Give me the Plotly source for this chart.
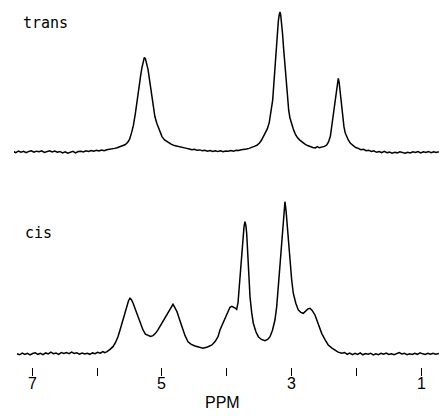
import plotly.graph_objects as go

# ---- data: trans spectrum (ppm, relative intensity) ----
trans_ppm = [7.29, 7.25, 7.21, 7.17, 7.13, 7.09, 7.05, 7.01, 6.97, 6.93, 6.89, 6.85, 6.81, 6.77, 6.73,
             6.69, 6.65, 6.61, 6.57, 6.53, 6.49, 6.45, 6.41, 6.37, 6.33, 6.29, 6.25, 6.21, 6.17, 6.13,
             6.09, 6.05, 6.01, 5.97, 5.93, 5.89, 5.85, 5.81, 5.77, 5.73, 5.69, 5.65, 5.61, 5.57, 5.53,
             5.50, 5.47, 5.44, 5.41, 5.385, 5.36, 5.33, 5.31, 5.29, 5.272, 5.255, 5.235, 5.215, 5.19,
             5.17, 5.14, 5.11, 5.08, 5.04, 5.00, 4.96, 4.91, 4.86, 4.81, 4.76, 4.71, 4.66, 4.62, 4.58,
             4.54, 4.50, 4.46, 4.42, 4.38, 4.34, 4.30, 4.26, 4.22, 4.18, 4.14, 4.10, 4.06, 4.02, 3.98,
             3.94, 3.90, 3.86, 3.82, 3.78, 3.74, 3.70, 3.66, 3.62, 3.58, 3.54, 3.50, 3.47, 3.44, 3.41,
             3.38, 3.35, 3.33, 3.31, 3.297, 3.28, 3.262, 3.245, 3.226, 3.21, 3.195, 3.185, 3.175, 3.16,
             3.146, 3.127, 3.108, 3.09, 3.072, 3.05, 3.031, 3.01, 2.98, 2.95, 2.92, 2.88, 2.84, 2.80,
             2.76, 2.72, 2.68, 2.64, 2.61, 2.58, 2.54, 2.50, 2.466, 2.44, 2.41, 2.39, 2.37, 2.355, 2.338,
             2.32, 2.30, 2.288, 2.275, 2.26, 2.251, 2.235, 2.22, 2.20, 2.18, 2.16, 2.134, 2.10, 2.06,
             2.02, 1.98, 1.94, 1.90, 1.86, 1.82, 1.78, 1.74, 1.70, 1.66, 1.62, 1.58, 1.54, 1.50, 1.46,
             1.42, 1.38, 1.34, 1.30, 1.26, 1.22, 1.18, 1.14, 1.10, 1.06, 1.02, 0.98, 0.94, 0.90, 0.86,
             0.82, 0.78, 0.74]
trans_int = [0.3, -0.4, 0.6, -0.2, 0.5, -0.5, 0.4, 0.9, -0.1, 0.6, 0.2, 0.8, -0.3, 0.5, 0.9,
             0.1, 0.7, -0.2, 0.4, -0.6, 0.2, -0.8, -0.1, 0.5, -0.7, 0.3, 0.6, 0.1, 0.9, 0.4,
             1.1, 0.5, 1.3, 0.7, 1.4, 1.0, 1.6, 1.8, 2.2, 2.6, 3.0, 3.6, 4.2, 5.2, 6.8,
             9.0, 13.5, 19.0, 27.5, 37.1, 46.5, 54.0, 60.0, 65.0, 67.6, 66.5, 63.5, 59.0, 51.0,
             44.0, 33.0, 25.5, 20.5, 15.0, 11.0, 8.6, 6.8, 5.6, 4.6, 4.0, 3.2, 3.0, 2.6, 2.2,
             1.6, 2.0, 1.2, 1.5, 0.9, 1.3, 0.6, 1.0, 0.4, 0.9, 0.3, 0.8, 0.2, 0.7, 0.5,
             1.0, 0.6, 1.2, 1.1, 1.6, 1.7, 2.2, 2.6, 3.1, 4.0, 4.8, 6.4, 8.4, 11.0, 13.5,
             16.5, 21.0, 26.0, 32.0, 37.1, 48.0, 60.7, 73.0, 85.0, 93.5, 98.5, 100.0, 98.5, 93.0,
             85.0, 73.0, 60.7, 48.0, 37.1, 29.5, 24.3, 20.5, 16.5, 13.0, 10.5, 8.5, 6.8, 5.6,
             4.6, 3.8, 3.2, 2.9, 3.8, 3.0, 3.4, 4.0, 5.0, 7.0, 11.0, 17.9, 24.0, 30.0, 37.1,
             44.5, 50.5, 52.6, 50.0, 43.0, 37.1, 29.5, 24.5, 17.9, 13.5, 10.8, 8.6, 6.2, 4.4,
             3.2, 2.6, 1.6, 1.9, 0.9, 1.3, 0.4, 0.8, -0.2, 0.3, -0.4, 0.5, -0.5, -0.1, -0.8,
             -0.2, -0.6, 0.1, -0.5, -0.9, -0.2, -0.7, 0.2, -0.4, 0.3, -0.6, 0.2, -0.3, 0.4, -0.5,
             0.1, -0.4, 0.2]

# ---- data: cis spectrum (ppm, relative intensity) ----
cis_ppm = [7.23, 7.19, 7.15, 7.11, 7.07, 7.03, 6.99, 6.95, 6.91, 6.87, 6.83, 6.79, 6.75, 6.71, 6.67,
           6.63, 6.59, 6.55, 6.51, 6.47, 6.43, 6.39, 6.35, 6.31, 6.27, 6.23, 6.19, 6.15, 6.11, 6.07,
           6.03, 5.99, 5.95, 5.91, 5.88, 5.846, 5.80, 5.754, 5.715, 5.677, 5.64, 5.60, 5.57, 5.538,
           5.515, 5.492, 5.47, 5.446, 5.41, 5.369, 5.33, 5.292, 5.255, 5.215, 5.175, 5.138, 5.10,
           5.062, 5.025, 4.985, 4.945, 4.908, 4.87, 4.845, 4.831, 4.81, 4.769, 4.73, 4.692, 4.645,
           4.600, 4.55, 4.492, 4.43, 4.369, 4.30, 4.231, 4.18, 4.138, 4.108, 4.07, 4.031, 3.99, 3.954,
           3.925, 3.903, 3.88, 3.851, 3.83, 3.815, 3.795, 3.774, 3.755, 3.738, 3.723, 3.71, 3.697,
           3.685, 3.672, 3.66, 3.646, 3.62, 3.595, 3.555, 3.518, 3.47, 3.415, 3.375, 3.338, 3.30,
           3.262, 3.235, 3.211, 3.19, 3.174, 3.158, 3.143, 3.125, 3.108, 3.09, 3.072, 3.05, 3.031,
           3.005, 2.980, 2.94, 2.903, 2.865, 2.826, 2.785, 2.755, 2.723, 2.69, 2.646, 2.595, 2.543,
           2.49, 2.442, 2.39, 2.338, 2.29, 2.235, 2.19, 2.15, 2.11, 2.07, 2.03, 1.99, 1.95, 1.91,
           1.87, 1.83, 1.79, 1.75, 1.71, 1.67, 1.63, 1.59, 1.55, 1.51, 1.47, 1.43, 1.39, 1.35, 1.31,
           1.27, 1.23, 1.19, 1.15, 1.11, 1.07, 1.03, 0.99, 0.95, 0.91, 0.87, 0.83, 0.79, 0.74]
cis_int = [0.2, -0.5, 0.6, -0.3, 0.4, -0.6, 0.3, 0.8, -0.2, 0.5, -0.4, 0.7, 0.1, 1.2, 0.2,
           0.6, -0.3, 0.9, 0.3, 1.0, 0.2, 1.3, 0.4, 0.8, -0.1, 0.6, 0.0, 0.5, -0.2, 0.7,
           0.2, 1.1, 0.5, 1.6, 0.9, 1.5, 3.0, 4.8, 7.5, 11.3, 16.5, 22.2, 27.0, 32.0,
           34.8, 36.4, 35.5, 33.3, 29.0, 24.4, 19.5, 15.7, 13.0, 12.0, 11.5, 12.0, 13.5,
           15.7, 18.5, 21.1, 24.0, 26.8, 30.0, 32.0, 32.5, 31.0, 27.6, 22.5, 17.8, 12.0,
           8.0, 6.3, 5.2, 4.4, 3.7, 4.6, 5.9, 8.3, 11.3, 15.7, 19.5, 23.3, 27.5, 30.5,
           31.2, 30.9, 30.2, 29.2, 33.5, 41.8, 53.0, 63.6, 74.5, 83.2, 86.5, 84.0, 78.9,
           69.0, 59.3, 48.0, 37.5, 27.0, 20.1, 14.5, 11.3, 9.5, 8.7, 9.5, 11.3, 15.5,
           22.2, 31.0, 41.8, 53.0, 63.6, 72.5, 81.0, 91.0, 99.5, 93.0, 83.2, 70.0, 59.3,
           48.5, 39.7, 33.0, 28.8, 27.2, 26.6, 28.0, 29.5, 29.9, 28.5, 25.5, 19.5, 13.5,
           9.2, 5.9, 4.0, 2.6, 1.2, 0.5, 1.0, -0.2, 0.6, -0.4, 0.4, -0.3, 0.7, -0.5,
           0.3, -0.2, 0.5, -0.6, 0.1, -0.4, 0.4, -0.2, 0.6, -0.3, 0.2, -0.5, 0.3, 0.9, 0.0,
           0.4, -0.4, 0.2, -0.3, 0.5, -0.2, 0.8, 0.1, -0.3, 0.5, -0.2, 0.4, -0.1, 0.3]

tick_vals = [7, 6, 5, 4, 3, 2, 1]
label_vals = [7, 5, 3, 1]
label_text = ["7", "5", "3", "1"]
labels = ["trans", "cis"]

fig = go.Figure()
fig.add_trace(go.Scatter(x=trans_ppm, y=trans_int, mode="lines",
                         line=dict(color="black", width=1.5), xaxis="x", yaxis="y",
                         showlegend=False, hoverinfo="skip"))
fig.add_trace(go.Scatter(x=cis_ppm, y=cis_int, mode="lines",
                         line=dict(color="black", width=1.5), xaxis="x", yaxis="y2",
                         showlegend=False, hoverinfo="skip"))

font_family = "Liberation Sans, Arial, sans-serif"
mono_family = "DejaVu Sans Mono, monospace"

annotations = [
    dict(text=labels[0], xref="paper", yref="paper", x=0.0165, y=0.937,
         xanchor="left", yanchor="middle", showarrow=False,
         font=dict(family=mono_family, size=15, color="black")),
    dict(text=labels[1], xref="paper", yref="paper", x=0.021, y=0.365,
         xanchor="left", yanchor="middle", showarrow=False,
         font=dict(family=mono_family, size=15, color="black")),
    dict(text="PPM", xref="x", yref="paper", x=4.07, y=-0.0954,
         xanchor="center", yanchor="middle", showarrow=False,
         font=dict(family=font_family, size=16, color="black")),
]
for v, t in zip(label_vals, label_text):
    annotations.append(dict(text=t, xref="x", yref="paper", x=v, y=-0.0463,
                            xanchor="center", yanchor="middle", showarrow=False,
                            font=dict(family=font_family, size=16, color="black")))

fig.update_layout(
    width=439, height=417,
    margin=dict(l=14, r=0, t=0, b=50),
    paper_bgcolor="white", plot_bgcolor="white",
    xaxis=dict(range=[7.277, 0.738], showgrid=False, zeroline=False, showline=False,
               ticks="outside", ticklen=8, tickwidth=1.3, tickcolor="black",
               tickvals=tick_vals, showticklabels=False, anchor="y2"),
    yaxis=dict(domain=[0.5, 1.0], range=[-22.5, 108.6], visible=False),
    yaxis2=dict(domain=[0.0, 0.5], range=[-8.5, 111.4], visible=False, anchor="x"),
    annotations=annotations,
)

fig.write_html("out.html")
